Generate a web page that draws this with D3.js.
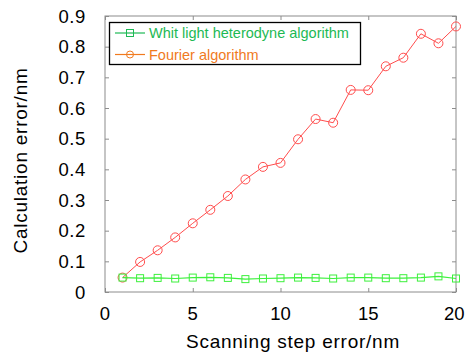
<!DOCTYPE html>
<html><head><meta charset="utf-8">
<script src="https://cdn.jsdelivr.net/npm/d3@7/dist/d3.min.js"></script>
<style>body{margin:0;background:#fff}svg{display:block}text{font-family:"Liberation Sans",Arial,sans-serif}</style>
</head><body>
<script>
const steps = [1,2,3,4,5,6,7,8,9,10,11,12,13,14,15,16,17,18,19,20];
const whiteLight = [0.047,0.045,0.046,0.044,0.047,0.048,0.046,0.042,0.044,0.045,0.047,0.046,0.044,0.047,0.047,0.045,0.045,0.047,0.051,0.044];
const fourier = [0.047,0.098,0.136,0.178,0.224,0.268,0.313,0.367,0.408,0.421,0.498,0.564,0.552,0.659,0.658,0.736,0.764,0.842,0.811,0.866];
const xTicks = [0,5,10,15,20];
const yTicks = [0,0.1,0.2,0.3,0.4,0.5,0.6,0.7,0.8,0.9];
const seriesNames = ["Whit light heterodyne algorithm","Fourier algorithm"];

const W=465,H=354, L=105,T=16,R=456,B=292;
const svg=d3.select("body").append("svg").attr("width",W).attr("height",H);
const x=d3.scaleLinear().domain([0,20]).range([L,R]);
const y=d3.scaleLinear().domain([0,0.9]).range([B,T]);
const axisCol="#8c8c8c";

function styleAxis(g){g.select(".domain").remove();g.selectAll(".tick line").attr("stroke",axisCol);g.selectAll("text").remove();}
svg.append("g").attr("transform",`translate(0,${B})`).call(d3.axisBottom(x).tickValues(xTicks).tickSize(-4)).call(styleAxis);
svg.append("g").attr("transform",`translate(0,${T})`).call(d3.axisTop(x).tickValues(xTicks).tickSize(-4)).call(styleAxis);
svg.append("g").attr("transform",`translate(${L},0)`).call(d3.axisLeft(y).tickValues(yTicks).tickSize(-4)).call(styleAxis);
svg.append("g").attr("transform",`translate(${R},0)`).call(d3.axisRight(y).tickValues(yTicks).tickSize(-4)).call(styleAxis);
svg.append("rect").attr("x",L).attr("y",T).attr("width",R-L).attr("height",B-T).attr("fill","none").attr("stroke",axisCol).attr("stroke-width",1);

// tick labels
const lastX = xTicks[xTicks.length-1];
svg.append("g").selectAll("text").data(xTicks).join("text")
  .attr("x",d=>d===lastX?W-0.5:x(d)).attr("y",320)
  .attr("text-anchor",d=>d===lastX?"end":"middle")
  .attr("font-size",18.5).attr("fill","#000").text(d=>d);
svg.append("g").selectAll("text").data(yTicks).join("text")
  .attr("x",86).attr("y",d=>y(d)+6.5).attr("text-anchor","end").attr("font-size",18.5).attr("letter-spacing",0.6).attr("fill","#000").text(d=>d===0?"0":d3.format(".1f")(d));

svg.append("text").attr("x",293).attr("y",348).attr("text-anchor","middle").attr("font-size",19).attr("letter-spacing",0.75).attr("fill","#000").text("Scanning step error/nm");
svg.append("text").attr("transform",`translate(27,160.5) rotate(-90)`).attr("text-anchor","middle").attr("font-size",19).attr("letter-spacing",0.75).attr("fill","#000").text("Calculation error/nm");

const green="#3cf03c", red="#ff4d4d";
const line=d3.line().x((d,i)=>x(steps[i])).y(d=>y(d));
svg.append("path").datum(fourier).attr("d",line).attr("fill","none").attr("stroke",red).attr("stroke-width",1);
svg.append("g").selectAll("circle").data(fourier).join("circle")
  .attr("cx",(d,i)=>x(steps[i])).attr("cy",d=>y(d)).attr("r",4.5).attr("fill","none").attr("stroke",red).attr("stroke-width",1);
svg.append("path").datum(whiteLight).attr("d",line).attr("fill","none").attr("stroke",green).attr("stroke-width",1.2);
svg.append("g").selectAll("rect").data(whiteLight).join("rect")
  .attr("x",(d,i)=>x(steps[i])-3.5).attr("y",d=>y(d)-3.5).attr("width",7).attr("height",7).attr("fill","none").attr("stroke",green).attr("stroke-width",1);

// legend
const lg=svg.append("g");
lg.append("rect").attr("x",109.5).attr("y",22.5).attr("width",251).attr("height",42).attr("fill","#fff").attr("stroke","#000").attr("stroke-width",1.3);
const legCols=["#1db954","#f07a1e"];
seriesNames.forEach((n,i)=>{
  const yy=33+i*21.5, c=legCols[i];
  lg.append("line").attr("x1",115).attr("x2",145).attr("y1",yy).attr("y2",yy).attr("stroke",c).attr("stroke-width",1.2);
  if(i===0) lg.append("rect").attr("x",126.5).attr("y",yy-3.5).attr("width",7).attr("height",7).attr("fill","none").attr("stroke",c);
  else lg.append("circle").attr("cx",130).attr("cy",yy).attr("r",3.5).attr("fill","none").attr("stroke",c);
  lg.append("text").attr("x",149).attr("y",yy+5).attr("font-size",14.5).attr("fill",c).text(n);
});
</script>
</body></html>
